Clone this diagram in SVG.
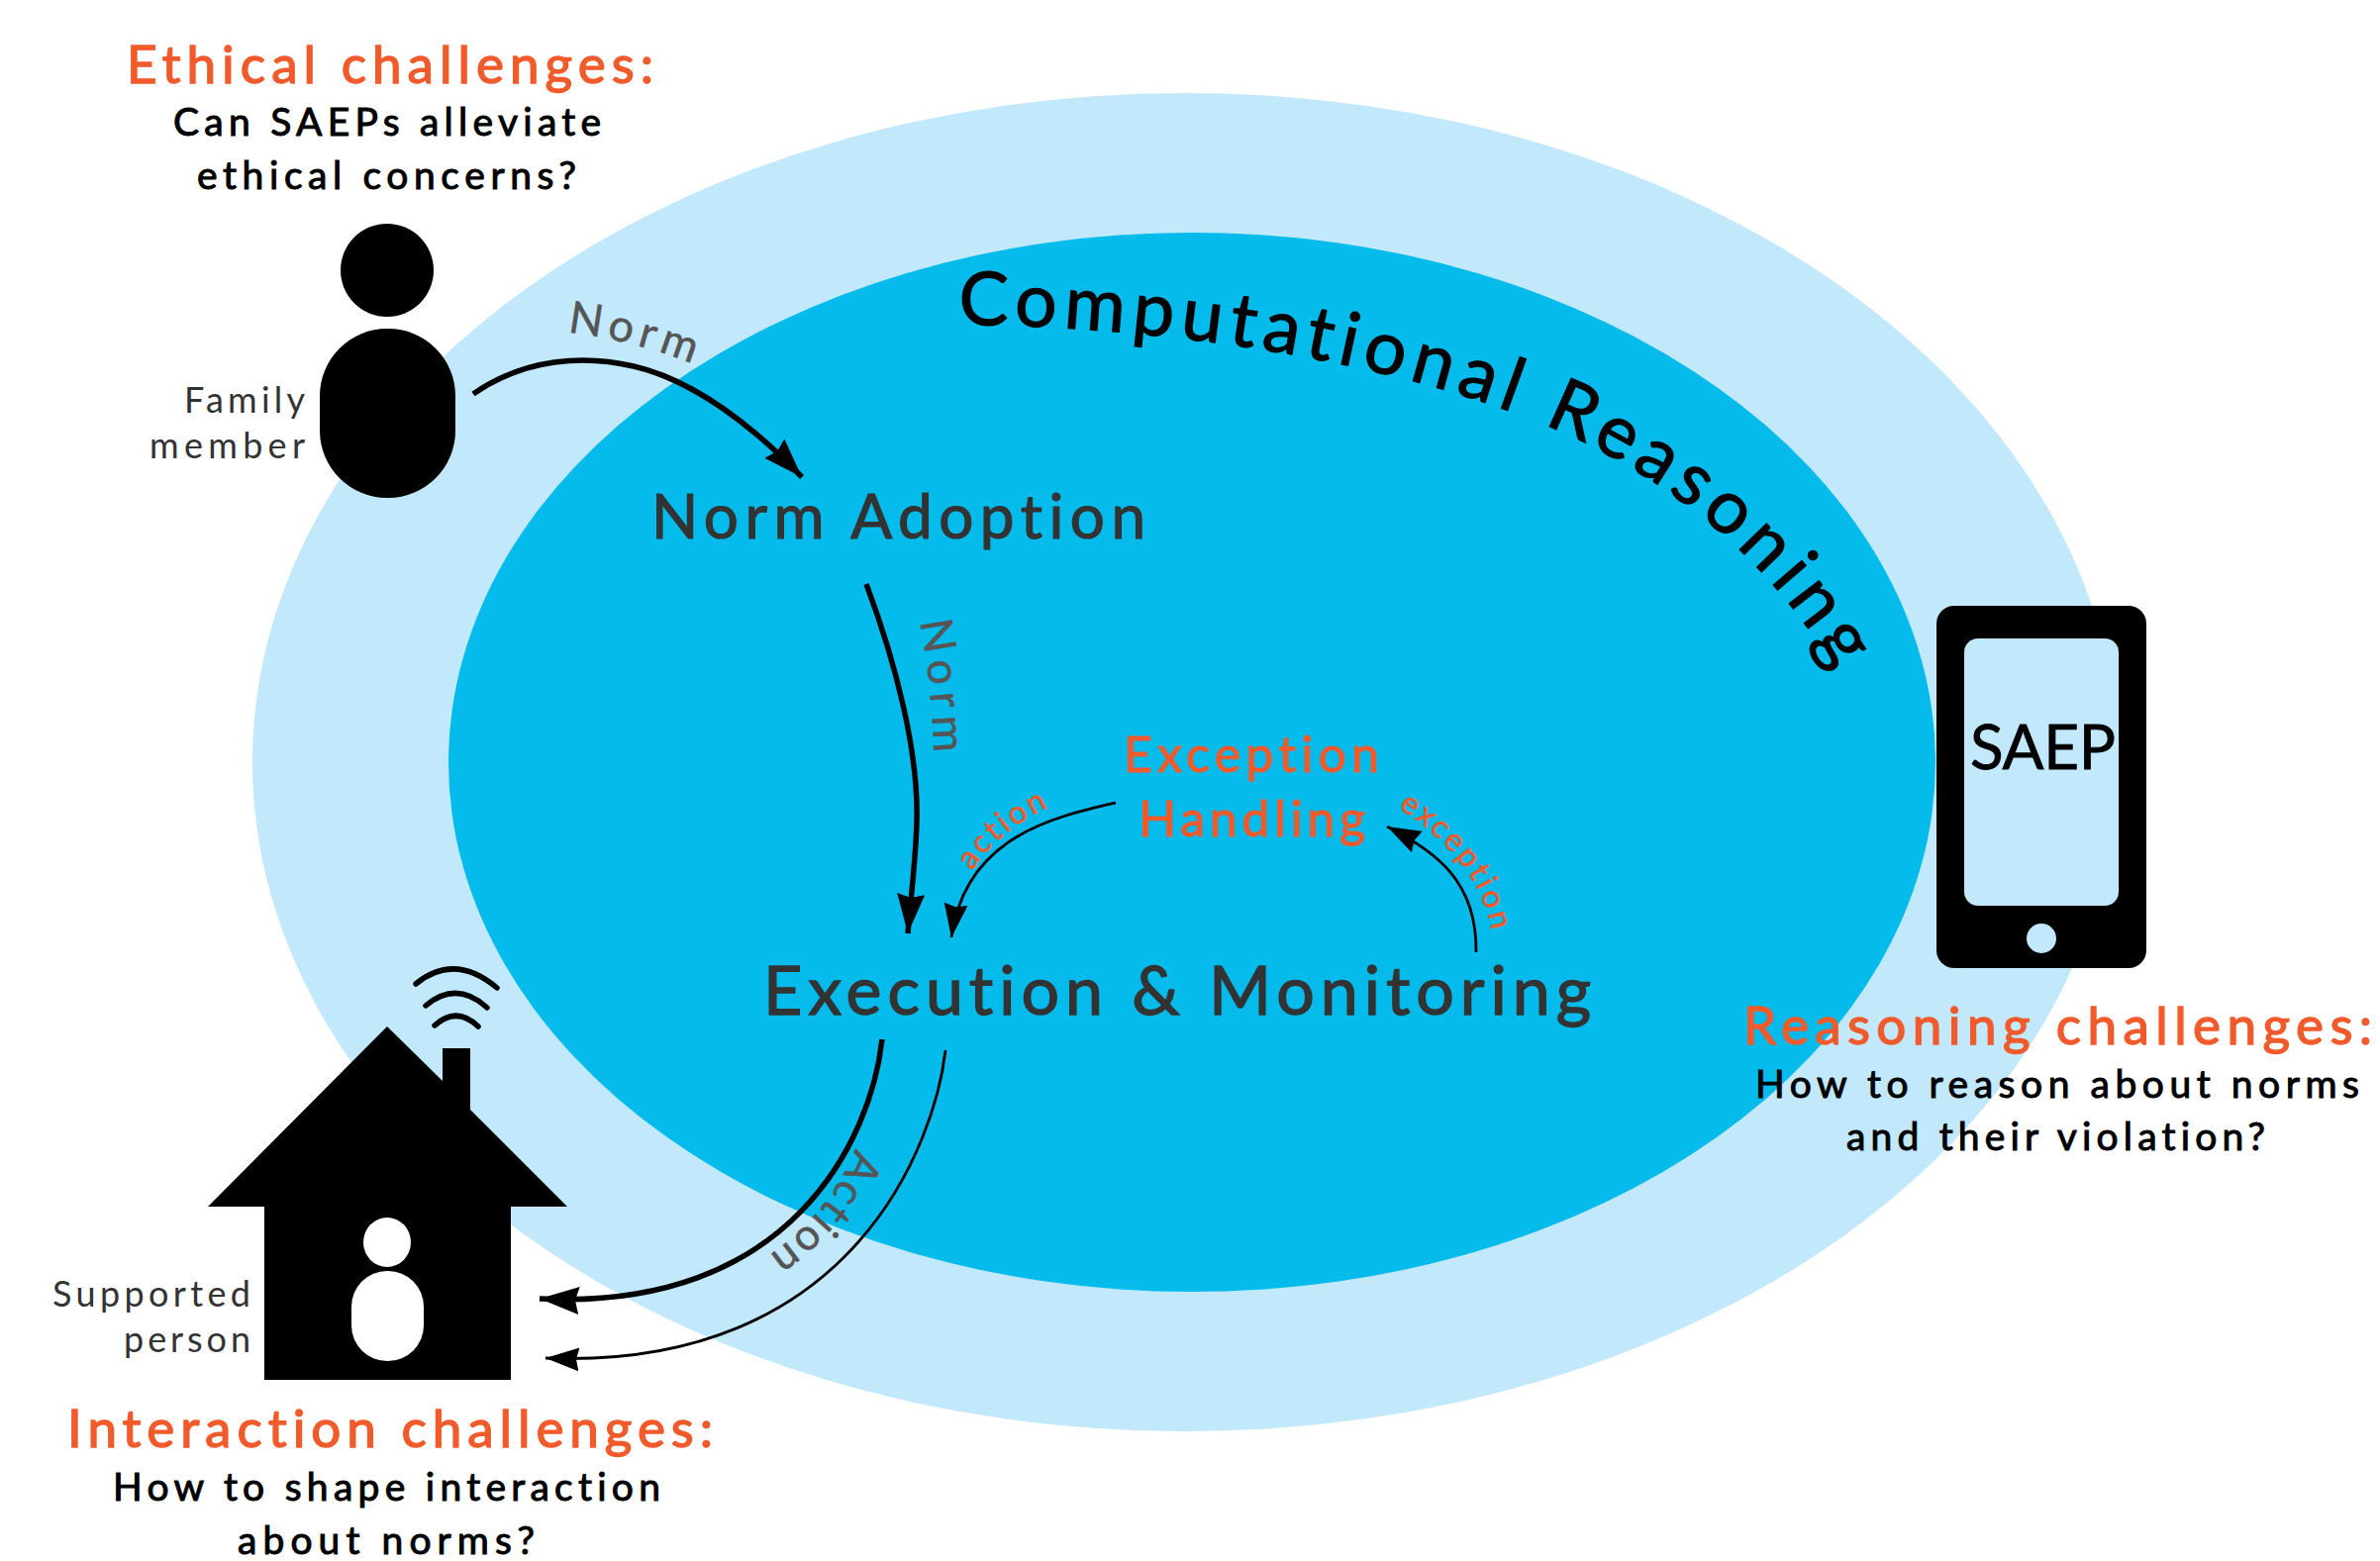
<svg xmlns="http://www.w3.org/2000/svg" xmlns:xlink="http://www.w3.org/1999/xlink" width="2404" height="1577" viewBox="0 0 2404 1577">
<style>
text{font-family:"Lato","Noto Sans","Liberation Sans",sans-serif;font-variant-ligatures:none}
.or{fill:#f15a2b;stroke:#f15a2b}
.bk{fill:#000;stroke:#000}
.dk{fill:#333;stroke:#333}
.gr{fill:#555;stroke:#555;stroke-width:.5}
.h{font-size:53px;stroke-width:1.4}
.q{font-size:39px;stroke-width:1}
.s{font-size:36px;fill:#333;stroke:none}
.m{font-size:62px;stroke-width:1.2}
.x{font-size:68px;stroke-width:1.4}
.e{font-size:50px;stroke-width:1.1}
.arc{fill:none;stroke:#000}
.thick{stroke-width:5.5}
.thin{stroke-width:2.8}
.wifi{fill:none;stroke:#000;stroke-width:5.5;stroke-linecap:round}
</style>
<defs>
<marker id="head" markerUnits="userSpaceOnUse" markerWidth="42" markerHeight="30" refX="40" refY="14" orient="auto"><path d="M0,0L40,14L0,28L4,14Z"/></marker>
<marker id="heads" markerUnits="userSpaceOnUse" markerWidth="36" markerHeight="26" refX="34" refY="12" orient="auto"><path d="M0,0L34,12L0,24L3,12Z"/></marker>
<path id="pNorm1" d="M573,336Q645,344 716,374"/>
<path id="pNorm2" d="M929,628Q942,692 944,777"/>
<path id="pAction" d="M864,1160Q836,1232 762,1278"/>
<path id="pActs" d="M982,880Q1012,832 1082,806"/>
<path id="pExc" d="M1412,816C1465,850 1505,895 1510,962"/>
<path id="pCR" d="M968,328C1180,330 1420,364 1590,442C1720,505 1800,585 1866,695"/>
</defs>
<rect width="2404" height="1577" fill="#fff"/>
<g id="outer-zone"><ellipse cx="1197" cy="770" rx="942" ry="676" fill="#c1e8fb"/></g>
<g id="inner-zone"><ellipse cx="1204" cy="770" rx="751" ry="535" fill="#04bbec"/>
<text class="bk" font-size="75" stroke-width="1.2"><textPath xlink:href="#pCR" href="#pCR" letter-spacing="7">Computational Reasoning</textPath></text></g>
<g id="family-member">
<ellipse cx="391" cy="273" rx="47" ry="47"/><rect x="323" y="332" width="137" height="171" rx="68" ry="68"/>
<text class="s" x="308" y="417" text-anchor="end" textLength="122">Family</text>
<text class="s" x="308" y="463" text-anchor="end" textLength="157">member</text>
<text class="h or" x="128" y="84" textLength="532">Ethical challenges:</text>
<text class="q bk" x="175" y="137" textLength="432">Can SAEPs alleviate</text>
<text class="q bk" x="199" y="191" textLength="383">ethical concerns?</text>
</g>
<g id="norm-adoption"><text class="m dk" x="658" y="544" textLength="499">Norm Adoption</text></g>
<g id="execution-monitoring"><text class="x dk" x="771" y="1025" textLength="836">Execution &amp; Monitoring</text></g>
<g id="exception-handling">
<text class="e or" x="1135" y="780" textLength="258">Exception</text>
<text class="e or" x="1150" y="845" textLength="229">Handling</text>
</g>
<g id="saep">
<rect x="1956" y="612" width="212" height="366" rx="18"/>
<rect x="1984" y="645" width="156" height="270" rx="14" fill="#c1e8fb"/>
<circle cx="2062" cy="948" r="15" fill="#c1e8fb"/>
<text class="bk" font-size="62" stroke-width=".8" x="1990" y="777" textLength="147">SAEP</text>
<text class="h or" x="1761" y="1055" textLength="635">Reasoning challenges:</text>
<text class="q bk" x="1773" y="1109" textLength="610">How to reason about norms</text>
<text class="q bk" x="1865" y="1162" textLength="423">and their violation?</text>
</g>
<g id="supported-person">
<path d="M391,1037L447,1092V1059H475V1121L573,1219H516V1394H267V1219H210Z"/>
<ellipse cx="391" cy="1255" rx="24" ry="25" fill="#fff"/>
<rect x="355" y="1284" width="73" height="91" rx="36" ry="36" fill="#fff"/>
<path class="wifi" d="M420,994Q459,962 502,998"/>
<path class="wifi" d="M430,1016Q461,990 492,1018"/>
<path class="wifi" d="M439,1036Q461,1016 483,1037"/>
<text class="s" x="253" y="1320" text-anchor="end" textLength="200">Supported</text>
<text class="s" x="253" y="1366" text-anchor="end" textLength="128">person</text>
<text class="h or" x="68" y="1462" textLength="652">Interaction challenges:</text>
<text class="q bk" x="114" y="1516" textLength="553">How to shape interaction</text>
<text class="q bk" x="240" y="1570" textLength="300">about norms?</text>
</g>
<g id="connectors">
<path class="arc thick" marker-end="url(#head)" d="M478,398C530,362 590,358 640,370C700,384 760,430 810,482"/>
<path class="arc thick" marker-end="url(#head)" d="M875,590C905,670 928,760 926,830C925,870 920,905 917,943"/>
<path class="arc thin" marker-end="url(#heads)" d="M1127,811C1065,825 975,845 961,947"/>
<path class="arc thin" marker-end="url(#heads)" d="M1491,962C1492,890 1450,860 1401,835"/>
<path class="arc thick" marker-end="url(#head)" d="M891,1050C880,1150 800,1325 545,1312"/>
<path class="arc thin" marker-end="url(#heads)" d="M955,1061C945,1150 865,1385 551,1372"/>
<text class="gr" font-size="45"><textPath xlink:href="#pNorm1" href="#pNorm1" letter-spacing="6">Norm</textPath></text>
<text class="gr" font-size="45"><textPath xlink:href="#pNorm2" href="#pNorm2" letter-spacing="7">Norm</textPath></text>
<text class="gr" font-size="44"><textPath xlink:href="#pAction" href="#pAction" letter-spacing="3">Action</textPath></text>
<text class="or" font-size="32" stroke-width=".6"><textPath xlink:href="#pActs" href="#pActs" letter-spacing="3">action</textPath></text>
<text class="or" font-size="32" stroke-width=".6"><textPath xlink:href="#pExc" href="#pExc" letter-spacing="3">exception</textPath></text>
</g>
</svg>
